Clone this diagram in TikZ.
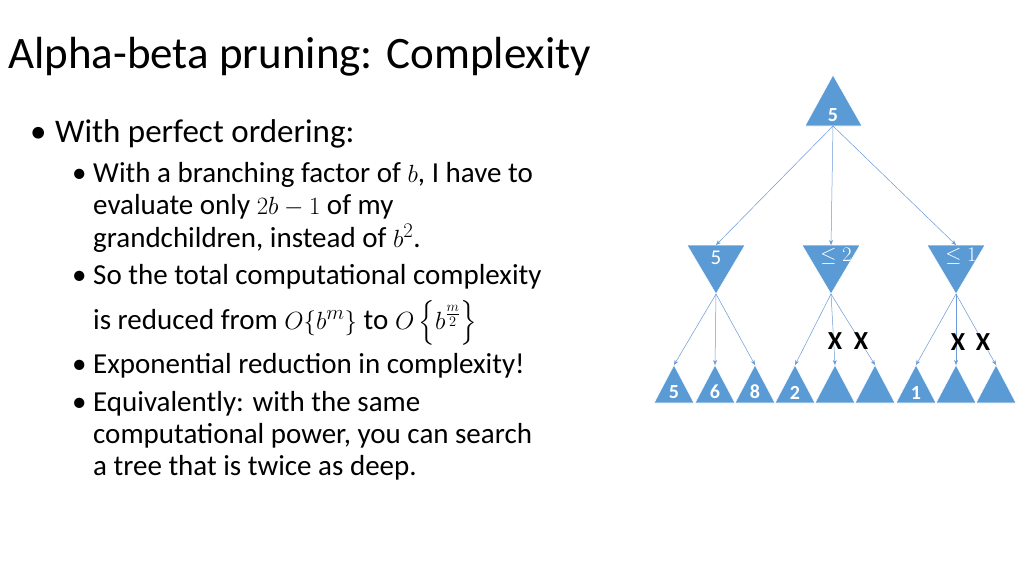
\documentclass[tikz,border=0pt]{standalone}
\usepackage{amsmath}
\usepackage{fontspec}
\setmainfont{Carlito}
\usetikzlibrary{arrows.meta}
\begin{document}
\begin{tikzpicture}[x=1pt,y=-1pt,
  edge/.style={draw=cyan!50!blue!60, line width=0.5pt, -{Stealth[length=5pt,width=4pt]}},
  lbl/.style={text=white, font=\fontsize{20}{20}\selectfont\bfseries},
  txt/.style={anchor=base west, inner sep=0pt, font=\fontsize{29}{32}\selectfont},
  xm/.style={font=\fontsize{26}{26}\selectfont\bfseries}]
\definecolor{tc}{RGB}{91,155,213}
\tikzset{tri/.style={fill=tc, draw=white, line width=0.6pt}}
\useasboundingbox (0,0) rectangle (1024,576);
\fill[white] (0,0) rectangle (1024,576);
\node[anchor=base west,inner sep=0pt,font=\fontsize{45}{45}\selectfont] (title) at (8,68) {Alpha-beta pruning: Complexity};
\node[anchor=base west,inner sep=0pt,font=\fontsize{33}{33}\selectfont] (bb1) at (30,142) {•};
\node[anchor=base west,inner sep=0pt,font=\fontsize{33}{33}\selectfont] (b1) at (55,142) {With perfect ordering:};
\foreach \y/\n in {182/a,284/b,373/c,411/d}{
  \node[txt] (bul\n) at (72,\y) {•};
}
\node[txt] (s1) at (93,182) {With a branching factor of $b$, I have to};
\node[txt] (s1b) at (93,214) {evaluate only $2b-1$ of my};
\node[txt] (s1c) at (93,247) {grandchildren, instead of $b^2$.};
\node[txt] (s2) at (93,284) {So the total computational complexity};
\node[txt] (s2b) at (93,329) {is reduced from $O\{b^m\}$ to $O\left\{b^{\frac{m}{2}}\right\}$};
\node[txt] (s3) at (93,373) {Exponential reduction in complexity!};
\node[txt] (s4) at (93,411) {Equivalently: with the same};
\node[txt] (s4b) at (93,443) {computational power, you can search};
\node[txt] (s4c) at (93,475) {a tree that is twice as deep.};
% root
\fill[tri] (833,75) -- (862,126) -- (805,126) -- cycle;
\node[lbl] (r) at (833,115) {5};
\coordinate (rb) at (833,126);
% middle
\foreach \c/\n in {716/m1,831/m2,956/m3}{
  \fill[tri] (\c-29,245) -- (\c+29,245) -- (\c,294) -- cycle;
  \coordinate (\n t) at (\c,245);
  \coordinate (\n b) at (\c,294);
}
\node[lbl,font=\fontsize{21}{21}\selectfont] at (716,258) {5};
\node[text=white,font=\fontsize{20}{20}\selectfont] at (836,256) {$\le 2$};
\node[text=white,font=\fontsize{20}{20}\selectfont] at (961,256) {$\le 1$};
\draw[edge] (rb) -- (m1t);
\draw[edge] (rb) -- (m2t);
\draw[edge] (rb) -- (m3t);
% leaves
\foreach \c/\n in {674/l1,715/l2,755/l3,795/l4,835/l5,875/l6,916/l7,956/l8,996/l9}{
  \fill[tri] (\c,365) -- (\c+20,403) -- (\c-20,403) -- cycle;
  \coordinate (\n) at (\c,365);
}
\node[lbl] at (674,392) {5};
\node[lbl] at (715,392) {6};
\node[lbl] at (755,392) {8};
\node[lbl] at (795,393) {2};
\node[lbl] at (916,393) {1};
\foreach \m/\a/\b/\cc in {m1/l1/l2/l3,m2/l4/l5/l6,m3/l7/l8/l9}{
  \draw[edge] (\m b) -- (\a);
  \draw[edge] (\m b) -- (\b);
  \draw[edge] (\m b) -- (\cc);
}
\node[xm] (x1) at (835,341) {X};
\node[xm] (x2) at (861,341) {X};
\node[xm] (x3) at (958,342) {X};
\node[xm] (x4) at (983,342) {X};
\end{tikzpicture}
\end{document}
